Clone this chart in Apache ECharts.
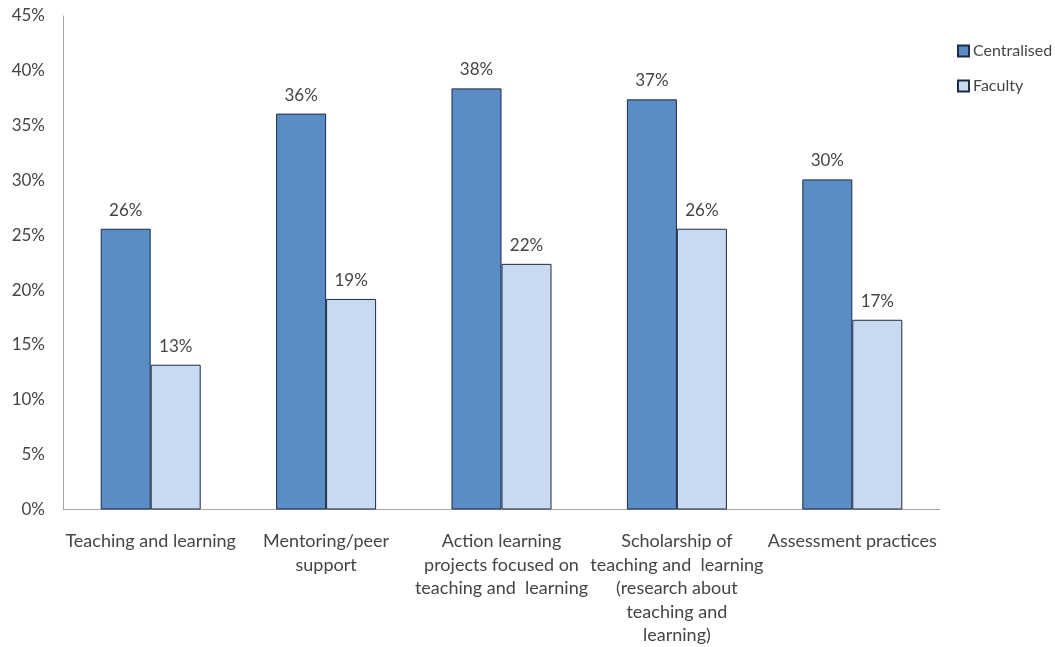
<!DOCTYPE html>
<html>
<head>
<meta charset="utf-8">
<script src="https://cdn.jsdelivr.net/npm/echarts@6/dist/echarts.min.js"></script>
<style>
  html, body { margin: 0; padding: 0; background: #fff; }
  #chart { width: 1055px; height: 647px; }
</style>
</head>
<body>
<div id="chart"></div>
<script>
// Professional development areas (line breaks as shown on the axis)
const categories = [
  'Teaching and learning',
  'Mentoring/peer\nsupport',
  'Action learning\nprojects focused on\nteaching and  learning',
  'Scholarship of\nteaching and  learning\n(research about\nteaching and\nlearning)',
  'Assessment practices'
];

// Share of respondents, percent
const centralised = [25.6, 36.1, 38.4, 37.4, 30.1];
const faculty = [13.2, 19.2, 22.4, 25.6, 17.3];

const seriesNames = ['Centralised', 'Faculty'];
const yTicks = [0, 5, 10, 15, 20, 25, 30, 35, 40, 45];

const FONT = 'Lato, "Open Sans", sans-serif';
const TEXT = '#454545';

const chart = echarts.init(document.getElementById('chart'));

const valueLabel = {
  show: true,
  position: 'top',
  distance: 10,
  color: TEXT,
  fontFamily: FONT,
  fontSize: 17,
  formatter: p => Math.round(p.value) + '%'
};

chart.setOption({
  animation: false,
  backgroundColor: '#ffffff',
  textStyle: { fontFamily: FONT, color: TEXT },
  grid: { left: 63, right: 115, top: 16, bottom: 137, containLabel: false },
  legend: {
    orient: 'vertical',
    left: 957,
    top: 43,
    padding: 0,
    itemWidth: 11,
    itemHeight: 11,
    itemGap: 19,
    icon: 'rect',
    textStyle: { fontFamily: FONT, fontSize: 16, color: TEXT, padding: [0, 0, 0, -1] },
    data: seriesNames
  },
  xAxis: {
    type: 'category',
    data: categories,
    axisLine: { show: true, lineStyle: { color: '#a6a6a6', width: 1 } },
    axisTick: { show: false },
    axisLabel: {
      interval: 0,
      margin: 20,
      color: TEXT,
      fontFamily: FONT,
      fontSize: 18,
      lineHeight: 23.5,
      align: 'center'
    }
  },
  yAxis: {
    type: 'value',
    min: yTicks[0],
    max: yTicks[yTicks.length - 1],
    interval: 5,
    splitLine: { show: false },
    axisLine: { show: true, lineStyle: { color: '#a6a6a6', width: 1 } },
    axisTick: { show: false },
    axisLabel: {
      margin: 18,
      color: TEXT,
      fontFamily: FONT,
      fontSize: 17,
      formatter: v => v + '%'
    }
  },
  series: [
    {
      name: seriesNames[0],
      type: 'bar',
      data: centralised,
      barWidth: 50,
      barGap: '0%',
      itemStyle: { color: '#5a8cc6', borderColor: '#1c2a44', borderWidth: 1 },
      label: valueLabel
    },
    {
      name: seriesNames[1],
      type: 'bar',
      data: faculty,
      barWidth: 50,
      itemStyle: { color: '#c9daf0', borderColor: '#1c2a44', borderWidth: 1 },
      label: valueLabel
    }
  ]
});
</script>
</body>
</html>
